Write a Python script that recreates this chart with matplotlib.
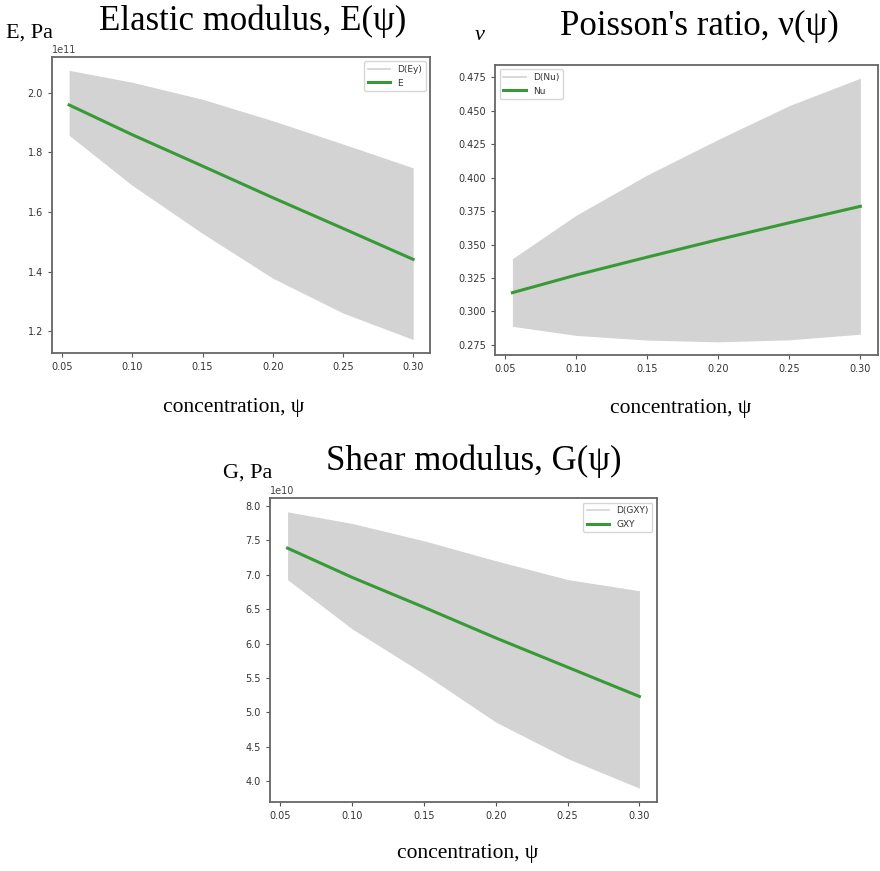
import matplotlib
matplotlib.use('Agg')
import matplotlib.pyplot as plt
import numpy as np

# concentration values (x)
psi = [0.055, 0.10, 0.15, 0.20, 0.25, 0.30]

# Elastic modulus, Pa
E_mean = [1.959e11, 1.859e11, 1.754e11, 1.648e11, 1.545e11, 1.441e11]
E_upper = [2.075e11, 2.035e11, 1.978e11, 1.906e11, 1.828e11, 1.748e11]
E_lower = [1.857e11, 1.689e11, 1.528e11, 1.378e11, 1.261e11, 1.172e11]

# Poisson's ratio
Nu_mean = [0.3140, 0.3272, 0.3406, 0.3537, 0.3663, 0.3786]
Nu_upper = [0.3394, 0.3720, 0.4021, 0.4287, 0.4540, 0.4745]
Nu_lower = [0.2888, 0.2820, 0.2785, 0.2772, 0.2787, 0.2829]

# Shear modulus, Pa
G_mean = [7.386e10, 6.961e10, 6.527e10, 6.082e10, 5.657e10, 5.232e10]
G_upper = [7.913e10, 7.744e10, 7.493e10, 7.203e10, 6.930e10, 6.768e10]
G_lower = [6.928e10, 6.213e10, 5.560e10, 4.860e10, 4.330e10, 3.900e10]

FILL = '#d3d3d3'
GREEN = '#379a37'
SERIF = 'Liberation Serif'


def draw_panel(ax, mean, lower, upper, band_label, line_label, legend_loc):
    """Band of the spread plus the mean curve"""
    ax.fill_between(psi, lower, upper, color=FILL, linewidth=0)
    ax.plot([], [], color=FILL, linewidth=1.2, label=band_label)
    ax.plot(psi, mean, color=GREEN, linewidth=2.2, label=line_label)
    ax.set_xticks([0.05, 0.10, 0.15, 0.20, 0.25, 0.30])
    ax.tick_params(labelsize=7, colors='#555555', labelcolor='#333333', length=3)
    for sp in ax.spines.values():
        sp.set_color('#666666')
        sp.set_linewidth(1.3)
    ax.yaxis.get_offset_text().set_fontsize(7)
    ax.yaxis.get_offset_text().set_color('#444444')
    leg = ax.legend(loc=legend_loc, fontsize=6.5, frameon=True, handlelength=2.5)
    for t in leg.get_texts():
        t.set_color('#333333')


fig = plt.figure(figsize=(8.8, 8.71), dpi=100)

ax1 = fig.add_axes([0.059, 0.5947, 0.430, 0.340])
draw_panel(ax1, E_mean, E_lower, E_upper, 'D(Ey)', 'E', 'upper right')

ax2 = fig.add_axes([0.5625, 0.5924, 0.435, 0.333])
draw_panel(ax2, Nu_mean, Nu_lower, Nu_upper, 'D(Nu)', 'Nu', 'upper left')
ax2.set_yticks([0.275, 0.300, 0.325, 0.350, 0.375, 0.400, 0.425, 0.450, 0.475])

ax3 = fig.add_axes([0.3068, 0.0792, 0.4398, 0.349])
draw_panel(ax3, G_mean, G_lower, G_upper, 'D(GXY)', 'GXY', 'upper right')

# titles and axis names drawn as figure text (serif, like the original)
def ftext(x, y, s, size, **kw):
    fig.text(x / 880, 1 - y / 871, s, fontsize=size, family=SERIF,
             ha='center', va='center', **kw)

ftext(253, 21, 'Elastic modulus, E(ψ)', 25)
ftext(699, 26, "Poisson's ratio, ν(ψ)", 25)
ftext(474, 461, 'Shear modulus, G(ψ)', 25)

ftext(30, 33, 'E, Pa', 16)
ftext(480, 36, 'ν', 16, style='italic')
ftext(248, 473, 'G, Pa', 16)

ftext(234, 407, 'concentration, ψ', 15.5)
ftext(681, 408, 'concentration, ψ', 15.5)
ftext(468, 853, 'concentration, ψ', 15.5)

fig.savefig('out.png', dpi=100, facecolor='white')
